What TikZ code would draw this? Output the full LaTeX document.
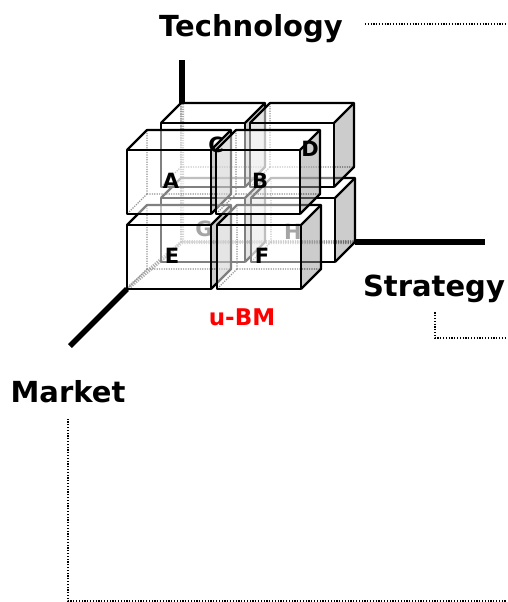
\documentclass[tikz,border=0pt]{standalone}
\usepackage{fontspec}
\setmainfont{DejaVu Sans}
\usepackage{xcolor}
\usepackage{tikz}
\usetikzlibrary{calc,positioning}
\definecolor{ubmred}{RGB}{255,0,0}
\newcommand{\BoxW}{84}
\newcommand{\BoxH}{64}
\newcommand{\BoxD}{20}
\tikzset{
  boxedge/.style={draw, line width=2.2pt, line join=round},
  faceA/.style={fill=white, fill opacity=0.5},     % front and top faces
  faceB/.style={fill=black!40, fill opacity=0.5},  % right side face
  backedge/.style={draw=black!85, line width=1.3pt, dash pattern=on 1.2pt off 1.2pt},
  axisline/.style={line width=5.5pt},
  axishidden/.style={draw=black!65, line width=4pt, dash pattern=on 1.2pt off 1.2pt},
  guide/.style={line width=1.3pt, dash pattern=on 1.2pt off 1.6pt},
  axisname/.style={font=\bfseries\fontsize{29}{33}\selectfont, inner sep=0pt, anchor=base},
  cellname/.style={font=\bfseries\fontsize{21}{24}\selectfont, inner sep=0pt},
  cellfaint/.style={cellname, text=black!70}
}
\newcommand{\DrawBox}[2]{% front lower-left corner at (#1,#2)
  % hidden edges from the back-bottom-left corner
  \draw[backedge] ({#1+\BoxD},{#2-\BoxD}) -- ++(-\BoxD,\BoxD)
    ({#1+\BoxD},{#2-\BoxD}) -- ++(\BoxW,0)
    ({#1+\BoxD},{#2-\BoxD}) -- ++(0,-\BoxH);
  \fill[faceA] (#1,#2) rectangle ++(\BoxW,-\BoxH);
  \fill[faceA] (#1,{#2-\BoxH}) -- ++(\BoxD,-\BoxD) -- ++(\BoxW,0) -- ++(-\BoxD,\BoxD) -- cycle;
  \fill[faceB] ({#1+\BoxW},#2) -- ++(\BoxD,-\BoxD) -- ++(0,-\BoxH) -- ++(-\BoxD,\BoxD) -- cycle;
  \draw[boxedge] (#1,#2) rectangle ++(\BoxW,-\BoxH);
  \draw[boxedge] (#1,{#2-\BoxH}) -- ++(\BoxD,-\BoxD) -- ++(\BoxW,0) -- ++(0,\BoxH) -- ++(-\BoxD,\BoxD);
  \draw[boxedge] ({#1+\BoxW},{#2-\BoxH}) -- ++(\BoxD,-\BoxD);
}

\begin{document}
\begin{tikzpicture}[x=1pt,y=-1pt]
  \useasboundingbox (0,0) rectangle (507,602);
  % axes meet at the back-bottom-left corner of the stack
  \coordinate (O) at (182,242);
  \coordinate (techIn) at (182,103);
  \coordinate (techTop) at (182,60);
  \coordinate (stratIn) at (355,242);
  \coordinate (stratTip) at (485,242);
  \coordinate (mktIn) at (127,289);
  \coordinate (mktTip) at (70,346);
  % hidden parts of the axes
  \draw[axishidden] (O) -- (techIn) (O) -- (stratIn) (O) -- (mktIn);
  % back layer: G, H, C, D
  \foreach \bx/\by in {161/262, 251/262, 161/187, 250/187}{\DrawBox{\bx}{\by}}
  \node[cellfaint] (G) at (204,229) {G};
  \node[cellfaint] (H) at (293,232) {H};
  % front layer: E, F, A, B
  \foreach \bx/\by in {127/289, 217/289, 127/214, 216/214}{\DrawBox{\bx}{\by}}
  % visible parts of the axes
  \draw[axisline] (techIn) -- (techTop);
  \draw[axisline] (stratIn) -- (stratTip);
  \draw[axisline] (mktIn) -- (mktTip);
  % cell letters
  \node[cellname] (A) at (171,181) {A};
  \node[cellname] (B) at (260,181) {B};
  \node[cellname] (C) at (216,145) {C};
  \node[cellname] (D) at (310,149) {D};
  \node[cellname] (E) at (172,256) {E};
  \node[cellname] (F) at (262,256) {F};
  % axis names
  \node[axisname] (tech) at (251,37) {Technology};
  \node[axisname] (strat) at (434,296) {Strategy};
  \node[axisname] (mkt) at (68,402) {Market};
  \node[axisname, font=\bfseries\fontsize{23}{26}\selectfont, text=ubmred] (ubm) at (242,325) {u-BM};
  % dotted guides
  \coordinate (techEnd) at (507,24);
  \coordinate (stratCorner) at (435,338);
  \coordinate (stratEnd) at (507,338);
  \coordinate (mktCorner) at (68,601);
  \coordinate (mktEnd) at (507,601);
  \draw[guide] ([xshift=22pt]tech.east |- techEnd) -- (techEnd);
  \draw[guide] ([yshift=-10pt]strat.south -| stratCorner) -- (stratCorner) -- (stratEnd);
  \draw[guide] ([yshift=-16pt]mkt.south -| mktCorner) -- (mktCorner) -- (mktEnd);
\end{tikzpicture}
\end{document}
